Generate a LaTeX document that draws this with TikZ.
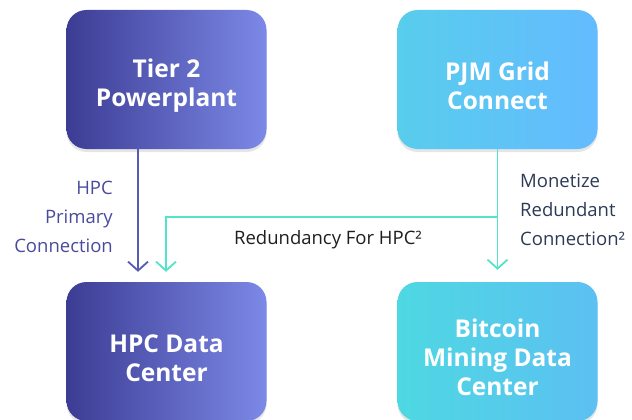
\documentclass[tikz,border=0pt]{standalone}
\usepackage{fontspec}
\setmainfont{Open Sans}
\usetikzlibrary{arrows.meta,shadows,calc}
\definecolor{purpA}{RGB}{60,60,148}
\definecolor{purpB}{RGB}{124,137,230}
\definecolor{pjmA}{RGB}{88,205,236}
\definecolor{pjmB}{RGB}{100,187,255}
\definecolor{btcA}{RGB}{78,216,226}
\definecolor{btcB}{RGB}{92,192,242}
\definecolor{purpline}{RGB}{88,90,182}
\definecolor{tealline}{RGB}{82,228,200}
\definecolor{purptext}{RGB}{74,74,156}
\definecolor{navytext}{RGB}{44,58,86}
\definecolor{darktext}{RGB}{30,30,30}
\newcommand{\lowerby}[2]{\raisebox{-#1}[\dimexpr\height+#1\relax][\dimexpr\depth-#1\relax]{\begin{tabular}{@{}c@{}}#2\end{tabular}}}
\tikzset{
  box/.style={rounded corners=20pt, minimum width=200pt, minimum height=139pt,
    text=white, inner sep=0pt,
    font=\fontsize{24.5}{28.8}\selectfont\bfseries,
    drop shadow={shadow xshift=0pt, shadow yshift=-3pt, opacity=0.10, fill=black}},
  purpbox/.style={box, left color=purpA, right color=purpB},
  pjmbox/.style={box, left color=pjmA, right color=pjmB},
  btcbox/.style={box, left color=btcA, right color=btcB},
  lbl/.style={font=\fontsize{18.5}{29}\selectfont, inner sep=0pt},
  tip/.style={-{Straight Barb[length=9pt, width=20pt]}},
  conn/.style={line width=1.8pt, tip}
}
\renewcommand{\arraystretch}{1.0}
\begin{document}
\begin{tikzpicture}[x=1pt, y=-1pt]
\useasboundingbox (0,0) rectangle (632,420);
\node[purpbox] (t2) at (166.5,79.5) {\lowerby{3.5pt}{Tier 2\\Powerplant}};
\node[pjmbox] (pjm) at (497.5,79.5) {\lowerby{5pt}{PJM Grid\\Connect}};
\node[purpbox] (hpc) at (166.5,351.5) {\lowerby{5pt}{HPC Data\\Center}};
\node[btcbox] (btc) at (497.5,351.5) {\lowerby{4.5pt}{Bitcoin\\Mining Data\\Center}};

\coordinate (px) at (138,0);
\coordinate (tx) at (166,0);
\coordinate (jn) at (497.5,217);
\coordinate (lc) at (166,217);

\draw[conn, purpline, shorten >=10pt] (t2.south -| px) -- (hpc.north -| px);
\draw[conn, tealline, shorten >=12pt] (pjm.south) -- (btc.north);
\draw[conn, tealline, shorten >=10pt] (jn) -- (lc) -- (hpc.north -| tx);

\node[lbl, text=purptext, align=right, anchor=east] (l1) at (113,217) {HPC\\Primary\\Connection};
\node[lbl, text=navytext, align=left, anchor=west] (l2) at (520,210) {Monetize\\Redundant\\Connection²};
\node[lbl, text=darktext, anchor=base] (l3) at (328,244) {Redundancy For HPC²};
\end{tikzpicture}
\end{document}
